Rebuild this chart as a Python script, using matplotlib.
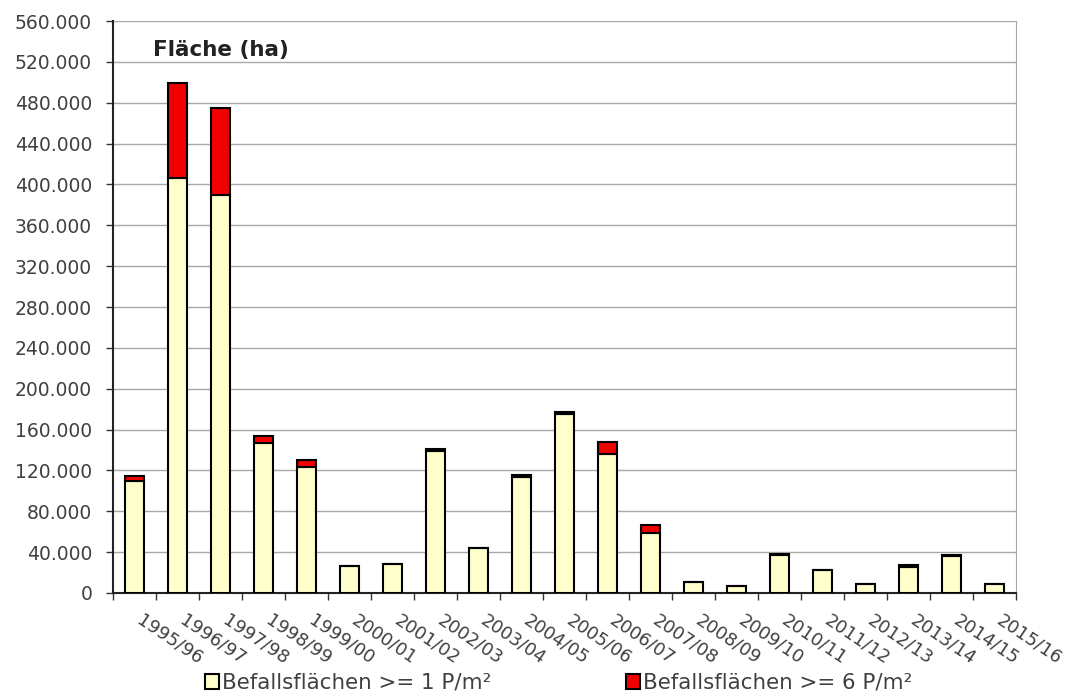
import matplotlib
matplotlib.use("Agg")
import matplotlib.pyplot as plt
import matplotlib.transforms as mtransforms
import numpy as np
from matplotlib.ticker import FuncFormatter, FixedLocator

plt.rcParams['font.family'] = ['DejaVu Sans']

jahre = ['1995/96', '1996/97', '1997/98', '1998/99', '1999/00', '2000/01', '2001/02',
         '2002/03', '2003/04', '2004/05', '2005/06', '2006/07', '2007/08', '2008/09',
         '2009/10', '2010/11', '2011/12', '2012/13', '2013/14', '2014/15', '2015/16']
# Befallsflaechen >= 1 P/m2 (ohne Anteil >= 6)
ab1 = [110000, 406000, 390000, 147000, 123000, 26500, 28500, 139000, 44000, 114000,
       175000, 136000, 59000, 11000, 7000, 37000, 22500, 8800, 25500, 36000, 8800]
# Befallsflaechen >= 6 P/m2
ab6 = [5000, 93000, 85000, 7000, 7000, 0, 0, 1500, 0, 1500,
       2000, 12000, 8000, 0, 0, 1000, 0, 0, 1500, 1500, 0]

fig = plt.figure(figsize=(10.68, 6.96), dpi=100)
ax = fig.add_axes([0.1058, 0.148, 0.8455, 0.8218])

x = np.arange(len(jahre))
ax.bar(x, ab1, width=0.42, color='#FFFFCC', edgecolor='black', linewidth=1.5,
       label='Befallsflächen >= 1 P/m²', zorder=3)
ax.bar(x, ab6, bottom=ab1, width=0.42, color='#F00000', edgecolor='black', linewidth=1.5,
       label='Befallsflächen >= 6 P/m²', zorder=3)

ax.set_xlim(-0.5, len(jahre) - 0.5)
ax.set_ylim(0, 560000)
ax.set_yticks(np.arange(0, 560001, 40000))
ax.yaxis.set_major_formatter(FuncFormatter(lambda v, p: '0' if v == 0 else f'{int(v):,}'.replace(',', '.')))
ax.grid(axis='y', color='#a8a8a8', linewidth=1.0, zorder=0)

# Striche an den Kategoriegrenzen, Beschriftung in der Mitte
ax.xaxis.set_major_locator(FixedLocator(np.arange(-0.5, len(jahre), 1.0)))
ax.set_xticklabels([])
ax.set_xticks(x, minor=True)
ax.set_xticklabels(jahre, minor=True, rotation=-34, ha='left', va='top',
                   rotation_mode='anchor', fontsize=13, color='#404040')
ax.tick_params(axis='x', which='minor', length=0, pad=13)
ax.tick_params(axis='x', which='major', length=5, width=1, color='#333333', direction='out')
ax.tick_params(axis='y', length=5, width=1, color='#333333', pad=10,
               labelsize=13.5, labelcolor='#404040')
verschub = mtransforms.ScaledTranslation(9 / 100, 0, fig.dpi_scale_trans)
for lbl in ax.get_xticklabels(minor=True):
    lbl.set_transform(lbl.get_transform() + verschub)

ax.spines['top'].set_visible(False)
ax.spines['right'].set_color('#a8a8a8')
ax.spines['left'].set_color('#222222')
ax.spines['bottom'].set_color('#222222')
ax.spines['left'].set_linewidth(1.5)
ax.spines['bottom'].set_linewidth(1.5)

fig.text(153 / 1068, 1 - 50 / 696, 'Fläche (ha)', fontsize=15.5,
         fontweight='bold', color='#222222', va='center', ha='left')

fig.legend(loc='center', bbox_to_anchor=(559 / 1068, 1 - 683 / 696), ncol=2, frameon=False,
           fontsize=15.4, handlelength=0.65, handleheight=0.65, handletextpad=0.15,
           columnspacing=6.3, borderpad=0, labelcolor='#404040')

fig.savefig('out.png', dpi=100)
